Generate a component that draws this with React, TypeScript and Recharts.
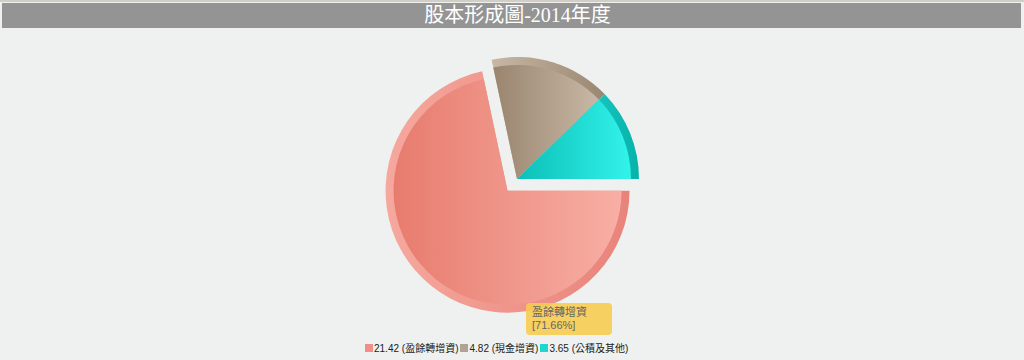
import { PieChart, Pie, Cell, Sector, Tooltip, Legend } from "recharts";

const categories = ["盈餘轉增資", "現金增資", "公積及其他"];
const amounts = [21.42, 4.82, 3.65];

const legendColors = ["#f28e87", "#b3a291", "#1fd7cd"];
const innerStops = [
  ["#e77c6e", "#f8afa5"],
  ["#9a856e", "#c8b8a6"],
  ["#0bbfb7", "#32f3ea"],
];
const rimStops = [
  ["#f6a89e", "#e8837a"],
  ["#c7b7a5", "#9b8770"],
  ["#2fe9e0", "#07b2aa"],
];

const total = amounts.reduce((a, b) => a + b, 0);
const pieData = categories.map((name, i) => ({ name, value: amounts[i] }));

// pink slice pulled out along its middle angle, every slice gets a rim band
const renderSlice = (props: any) => {
  const { cx, cy, outerRadius, startAngle, endAngle, midAngle } = props;
  const name = props.payload?.name ?? props.name;
  const i = categories.indexOf(name);
  const explode = i === 0 ? 15 : 0;
  const rad = (-midAngle * Math.PI) / 180;
  const x = cx + Math.cos(rad) * explode;
  const y = cy + Math.sin(rad) * explode;
  return (
    <g>
      <defs>
        <linearGradient id={`rim${i}`} x1="0" y1="0" x2="1" y2="0">
          <stop offset="0%" stopColor={rimStops[i][0]} />
          <stop offset="100%" stopColor={rimStops[i][1]} />
        </linearGradient>
        <linearGradient id={`in${i}`} x1="0" y1="0" x2="1" y2="0">
          <stop offset="0%" stopColor={innerStops[i][0]} />
          <stop offset="100%" stopColor={innerStops[i][1]} />
        </linearGradient>
      </defs>
      <Sector cx={x} cy={y} innerRadius={0} outerRadius={outerRadius}
        startAngle={startAngle} endAngle={endAngle} fill={`url(#rim${i})`} stroke="none" />
      <Sector cx={x} cy={y} innerRadius={0} outerRadius={outerRadius - 8}
        startAngle={startAngle} endAngle={endAngle} fill={`url(#in${i})`} stroke="none" />
    </g>
  );
};

const TipBox = () => (
  <div style={{
    background: "rgba(246, 204, 80, 0.9)", borderRadius: 4, width: 86, height: 32,
    boxSizing: "border-box", padding: "3px 6px", color: "#666", fontSize: 11, lineHeight: "13px",
    fontFamily: "'Liberation Sans', Arial, 'Noto Sans CJK TC', sans-serif",
  }}>
    <div>{categories[0]}</div>
    <div>[{((amounts[0] / total) * 100).toFixed(2)}%]</div>
  </div>
);

const LegendRow = () => (
  <div style={{
    display: "flex", justifyContent: "flex-start", alignItems: "center", fontSize: 10, color: "#222",
    fontFamily: "'Liberation Sans', Arial, 'Noto Sans CJK TC', sans-serif", paddingLeft: 365,
  }}>
    {categories.map((c, i) => (
      <span key={c} style={{ display: "flex", alignItems: "center", marginRight: 2, whiteSpace: "pre" }}>
        <span style={{ width: 8, height: 8, background: legendColors[i], marginRight: 1, display: "inline-block" }} />
        {amounts[i].toFixed(2)} ({c})
      </span>
    ))}
  </div>
);

export default function App() {
  return (
    <div style={{ position: "absolute", left: 0, top: 0, width: 1024, height: 360, background: "#eff1f0", overflow: "hidden" }}>
      <div style={{ position: "absolute", left: 0, top: 0, width: 1024, height: 2, background: "#d2cec6" }} />
      <div style={{
        position: "absolute", left: 2, top: 3, width: 1019, height: 25, background: "#949494",
        color: "#fff", fontSize: 20, lineHeight: "25px", textAlign: "center",
        fontFamily: "'Liberation Serif', 'Noto Sans CJK TC', serif", boxSizing: "border-box", paddingLeft: 12,
      }}>
        股本形成圖-2014年度
      </div>
      <div style={{ position: "absolute", left: 0, top: 0 }}>
        <PieChart width={1024} height={360} margin={{ top: 0, right: 0, bottom: 0, left: 0 }}>
          <Pie
            data={pieData}
            dataKey="value"
            nameKey="name"
            cx={517}
            cy={179}
            outerRadius={122}
            startAngle={0}
            endAngle={-360}
            stroke="none"
            isAnimationActive={false}
            activeShape={renderSlice}
            inactiveShape={renderSlice}
          >
            {pieData.map((d, i) => (
              <Cell key={d.name} fill={legendColors[i]} />
            ))}
          </Pie>
          <Tooltip
            defaultIndex={0}
            active
            isAnimationActive={false}
            position={{ x: 526, y: 303 }}
            content={() => <TipBox />}
            wrapperStyle={{ outline: "none" }}
          />
          <Legend
            content={() => <LegendRow />}
            wrapperStyle={{ position: "absolute", top: 340, left: 0, width: 1024 }}
          />
        </PieChart>
      </div>
    </div>
  );
}
